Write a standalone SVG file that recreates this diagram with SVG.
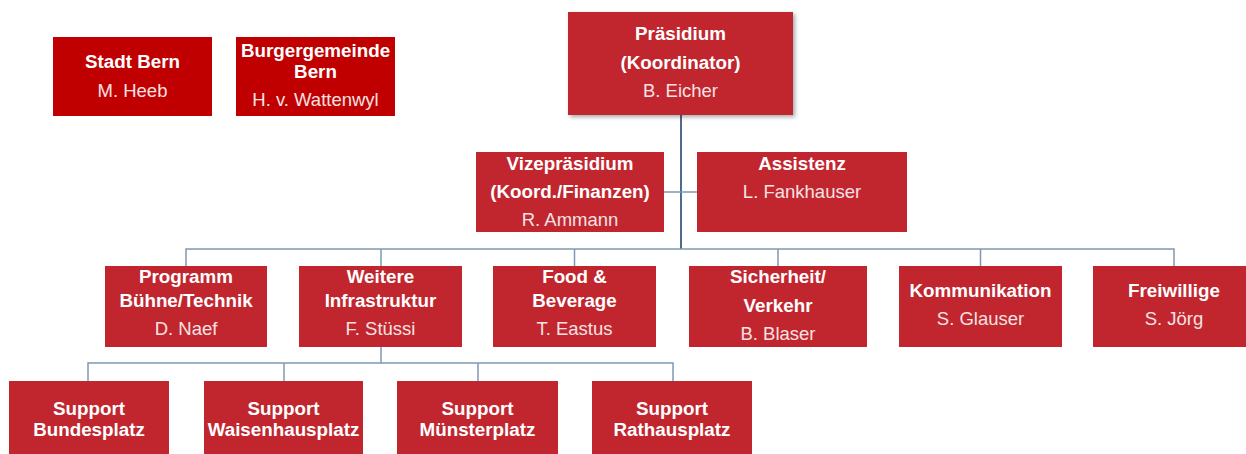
<svg xmlns="http://www.w3.org/2000/svg" width="1246" height="454" viewBox="0 0 1246 454">
<defs>
<style>
.box{fill:#C1262F}
.dark{fill:#C00000}
.b{font-family:"Liberation Sans",Arial,sans-serif;font-weight:bold;font-size:18.8px;fill:#FFFFFF;text-anchor:middle}
.r{font-family:"Liberation Sans",Arial,sans-serif;font-size:18.5px;fill:#F6E2E2;text-anchor:middle}
.ln{stroke:#7F99B2;stroke-width:1.5;fill:none}
.trunk{stroke:#4E6B8A;stroke-width:2;fill:none}
</style>
<filter id="sh" x="-10%" y="-10%" width="125%" height="130%">
<feDropShadow dx="2" dy="2" stdDeviation="2" flood-color="#000" flood-opacity="0.35"/>
</filter>
</defs>
<rect width="1246" height="454" fill="#FFFFFF"/>
<g id="connectors">
<path class="trunk" d="M681 115 V249"/>
<path class="ln" d="M664 192 H697"/>
<path class="ln" d="M186 266 V249 H1174 V266"/>
<path class="ln" d="M381 249 V266 M574.5 249 V266 M778 249 V266 M980.5 249 V266"/>
<path class="ln" d="M381 347 V363 M88 381 V363 H673 V381 M284 363 V381 M478 363 V381"/>
</g>
<g id="stadt-bern">
<rect class="dark" x="53" y="37" width="159" height="79"/>
<text class="b" x="132.5" y="68">Stadt Bern</text>
<text class="r" x="132.5" y="97">M. Heeb</text>
</g>
<g id="burgergemeinde">
<rect class="dark" x="236" y="37" width="159" height="79"/>
<text class="b" x="315.5" y="57">Burgergemeinde</text>
<text class="b" x="315.5" y="78">Bern</text>
<text class="r" x="315.5" y="106">H. v. Wattenwyl</text>
</g>
<g id="praesidium">
<rect class="box" x="568" y="12" width="225" height="103" filter="url(#sh)"/>
<text class="b" x="680.5" y="40">Präsidium</text>
<text class="b" x="680.5" y="69">(Koordinator)</text>
<text class="r" x="680.5" y="97">B. Eicher</text>
</g>
<g id="vizepraesidium">
<rect class="box" x="476" y="152" width="188" height="80"/>
<text class="b" x="570" y="170">Vizepräsidium</text>
<text class="b" x="570" y="198">(Koord./Finanzen)</text>
<text class="r" x="570" y="226">R. Ammann</text>
</g>
<g id="assistenz">
<rect class="box" x="697" y="152" width="210" height="80"/>
<text class="b" x="802" y="170">Assistenz</text>
<text class="r" x="802" y="198">L. Fankhauser</text>
</g>
<g id="programm">
<rect class="box" x="105" y="266" width="162" height="81"/>
<text class="b" x="186" y="283">Programm</text>
<text class="b" x="186" y="307">Bühne/Technik</text>
<text class="r" x="186" y="335">D. Naef</text>
</g>
<g id="infrastruktur">
<rect class="box" x="299" y="266" width="163" height="81"/>
<text class="b" x="380.5" y="283">Weitere</text>
<text class="b" x="380.5" y="307">Infrastruktur</text>
<text class="r" x="380.5" y="335">F. Stüssi</text>
</g>
<g id="food">
<rect class="box" x="493" y="266" width="163" height="81"/>
<text class="b" x="574.5" y="283">Food &amp;</text>
<text class="b" x="574.5" y="307">Beverage</text>
<text class="r" x="574.5" y="335">T. Eastus</text>
</g>
<g id="sicherheit">
<rect class="box" x="689" y="266" width="178" height="81"/>
<text class="b" x="778" y="283">Sicherheit/</text>
<text class="b" x="778" y="312">Verkehr</text>
<text class="r" x="778" y="340">B. Blaser</text>
</g>
<g id="kommunikation">
<rect class="box" x="899" y="266" width="163" height="81"/>
<text class="b" x="980.5" y="297">Kommunikation</text>
<text class="r" x="980.5" y="325">S. Glauser</text>
</g>
<g id="freiwillige">
<rect class="box" x="1093" y="266" width="162" height="81"/>
<text class="b" x="1174" y="297">Freiwillige</text>
<text class="r" x="1174" y="325">S. Jörg</text>
</g>
<g id="support-bundesplatz">
<rect class="box" x="9" y="381" width="160" height="80"/>
<text class="b" x="89" y="415">Support</text>
<text class="b" x="89" y="436">Bundesplatz</text>
</g>
<g id="support-waisenhausplatz">
<rect class="box" x="204" y="381" width="159" height="80"/>
<text class="b" x="283.5" y="415">Support</text>
<text class="b" x="283.5" y="436">Waisenhausplatz</text>
</g>
<g id="support-muensterplatz">
<rect class="box" x="397" y="381" width="161" height="80"/>
<text class="b" x="477.5" y="415">Support</text>
<text class="b" x="477.5" y="436">Münsterplatz</text>
</g>
<g id="support-rathausplatz">
<rect class="box" x="592" y="381" width="160" height="80"/>
<text class="b" x="672" y="415">Support</text>
<text class="b" x="672" y="436">Rathausplatz</text>
</g>
</svg>
